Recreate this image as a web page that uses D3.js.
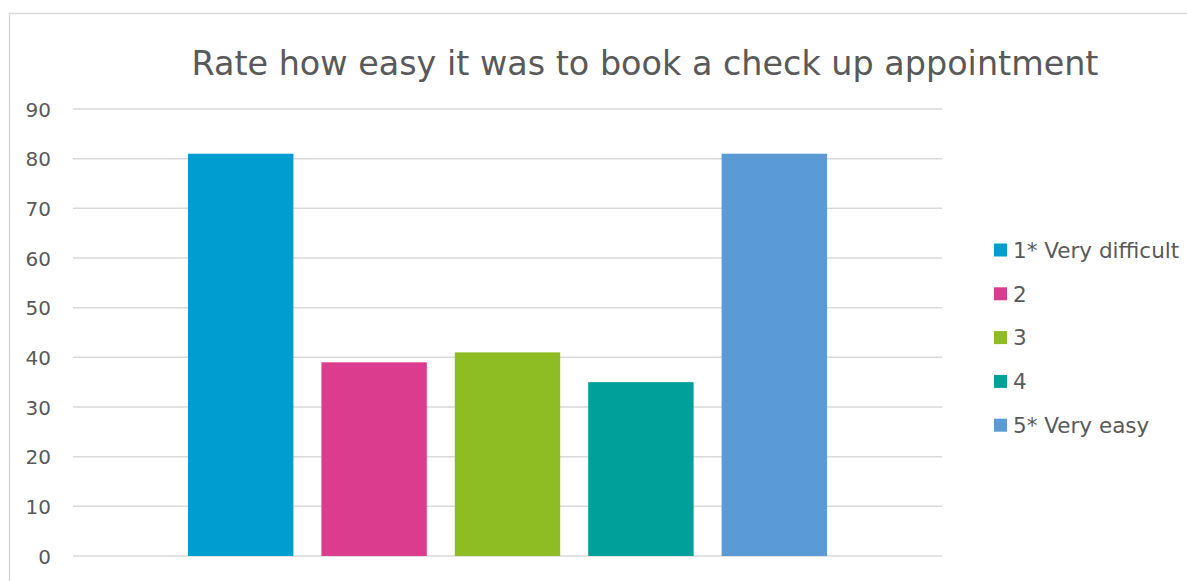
<!DOCTYPE html>
<html>
<head>
<meta charset="utf-8">
<script src="https://cdn.jsdelivr.net/npm/d3@7"></script>
<style>
  body { margin: 0; background: #fff; }
  text { font-family: "DejaVu Sans", sans-serif; fill: #595959; }
</style>
</head>
<body>
<svg id="chart" width="1187" height="581"></svg>
<script>
// chart data
var title = "Rate how easy it was to book a check up appointment";
var seriesNames = [ "1* Very difficult", "2", "3", "4", "5* Very easy" ];
var seriesValues = [ 81, 39, 41, 35, 81 ];
var seriesColors = [ "#009dd1", "#dc3c8e", "#8dbd23", "#00a09a", "#5b9bd5" ];
var yTicks = [ 0, 10, 20, 30, 40, 50, 60, 70, 80, 90 ];

var svg = d3.select( "#chart" );

// chart frame
svg.append( "path" )
    .attr( "d", "M9.5,581 L9.5,13.5 L1187,13.5" )
    .attr( "fill", "none" )
    .attr( "stroke", "#d9d9d9" )
    .attr( "stroke-width", 1.5 );

var plotLeft = 73, plotRight = 942;
var y = d3.scaleLinear().domain( [ 0, 90 ] ).range( [ 556, 109 ] );

var x = d3.scaleBand()
    .domain( seriesNames )
    .range( [ 188, 827 ] )
    .paddingInner( 0.21 )
    .paddingOuter( 0 );

// gridlines
svg.append( "g" )
    .selectAll( "line" )
    .data( yTicks )
    .join( "line" )
    .attr( "x1", plotLeft )
    .attr( "x2", plotRight )
    .attr( "y1", function( d ) { return y( d ); } )
    .attr( "y2", function( d ) { return y( d ); } )
    .attr( "stroke", "#d9d9d9" )
    .attr( "stroke-width", 1.5 );

// y axis labels
var yAxis = d3.axisLeft( y ).tickValues( yTicks ).tickSize( 0 ).tickPadding( 0 );
var ag = svg.append( "g" )
    .attr( "transform", "translate(51,0)" )
    .call( yAxis );
ag.select( ".domain" ).remove();
ag.selectAll( "text" )
    .attr( "font-size", 20 )
    .attr( "font-family", "DejaVu Sans, sans-serif" )
    .attr( "fill", "#595959" )
    .attr( "dy", "0.36em" );

// bars
svg.append( "g" )
    .selectAll( "rect" )
    .data( seriesValues )
    .join( "rect" )
    .attr( "x", function( d, i ) { return x( seriesNames[ i ] ); } )
    .attr( "y", function( d ) { return y( d ); } )
    .attr( "width", x.bandwidth() )
    .attr( "height", function( d ) { return y( 0 ) - y( d ); } )
    .attr( "fill", function( d, i ) { return seriesColors[ i ]; } );

// title
svg.append( "text" )
    .attr( "x", 645 )
    .attr( "y", 75 )
    .attr( "text-anchor", "middle" )
    .attr( "font-size", 33.4 )
    .text( title );

// legend
var legend = svg.append( "g" )
    .selectAll( "g" )
    .data( seriesNames )
    .join( "g" )
    .attr( "transform", function( d, i ) { return "translate(994," + ( 250 + i * 43.8 ) + ")"; } );

legend.append( "rect" )
    .attr( "x", 0 )
    .attr( "y", -6.5 )
    .attr( "width", 13 )
    .attr( "height", 13 )
    .attr( "fill", function( d, i ) { return seriesColors[ i ]; } );

legend.append( "text" )
    .attr( "x", 19 )
    .attr( "dy", "0.36em" )
    .attr( "font-size", 21.5 )
    .text( function( d ) { return d; } );
</script>
</body>
</html>
